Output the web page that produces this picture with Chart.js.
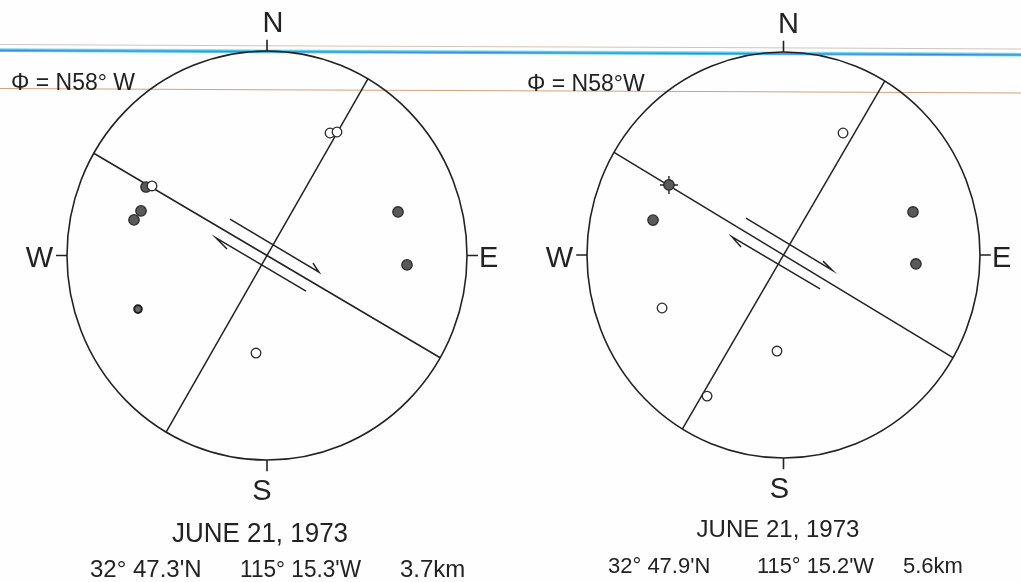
<!DOCTYPE html>
<html>
<head>
<meta charset="utf-8">
<script src="https://cdn.jsdelivr.net/npm/chart.js@4.4.0/dist/chart.umd.min.js"></script>
<style>
  body { margin: 0; background: #fff; }
  #page { position: relative; width: 1021px; height: 582px; overflow: hidden; background: #fefefe; }
  .scan { position: absolute; left: -5px; width: 1035px; transform-origin: 0 0; transform: rotate(0.25deg); }
  #scanGray { top: 44px; height: 1px; background: #cfc6bc; }
  #scanCyan { top: 48px; height: 4px; background: linear-gradient(#bdeff8, #4cc8ea 35%, #3a8ad6 60%, #74d8f0); }
  #scanBrown { top: 88px; height: 1px; background: #d2a27c; }
  .panel { position: absolute; top: 0; height: 582px; }
  #left { left: 0; width: 510px; }
  #right { left: 510px; width: 511px; }
</style>
</head>
<body>
<div id="page">
  <div class="scan" id="scanGray"></div>
  <div class="scan" id="scanCyan"></div>
  <div class="scan" id="scanBrown"></div>
  <div class="panel" id="left"><canvas id="chartLeft"></canvas></div>
  <div class="panel" id="right"><canvas id="chartRight"></canvas></div>
</div>
<script>
// event captions
const strikeLabels = ['Φ = N58° W', 'Φ = N58°W']
const dateLabels = ['JUNE 21, 1973', 'JUNE 21, 1973']
const epicenterLeft = ["32° 47.3'N", "115° 15.3'W", '3.7km']
const epicenterRight = ["32° 47.9'N", "115° 15.2'W", '5.6km']

// nodal plane strikes, degrees from north
const nodalStrikesLeft = [300.0, 30.3]
const nodalStrikesRight = [300.4, 31.0]

// first motions, unit stereonet coords (east +x, north +y)
const compressionsLeft = [
  { x: -0.605, y: 0.335 }, { x: -0.63, y: 0.218 }, { x: -0.665, y: 0.174 },
  { x: 0.655, y: 0.213 }, { x: 0.70, y: -0.046 },
]
const weakCompressionsLeft = [{ x: -0.645, y: -0.262 }]
const dilatationsLeft = [
  { x: 0.315, y: 0.599 }, { x: 0.35, y: 0.604 }, { x: -0.575, y: 0.34 }, { x: -0.055, y: -0.477 },
]

const compressionsRight = [
  { x: -0.583, y: 0.345 }, { x: -0.664, y: 0.172 }, { x: 0.659, y: 0.212 }, { x: 0.674, y: -0.044 },
]
const markedRight = [{ x: -0.583, y: 0.345 }]
const dilatationsRight = [
  { x: 0.303, y: 0.601 }, { x: -0.618, y: -0.261 }, { x: -0.033, y: -0.473 }, { x: -0.389, y: -0.695 },
]

// right-lateral slip arrows (polyline: shaft + half head)
const slipArrowsLeft = [
  [{ x: -0.185, y: 0.178 }, { x: 0.26, y: -0.082 }, { x: 0.23, y: -0.037 }],
  [{ x: -0.2, y: 0.032 }, { x: -0.255, y: 0.086 }, { x: 0.195, y: -0.174 }],
]
const slipArrowsRight = [
  [{ x: -0.191, y: 0.182 }, { x: 0.247, y: -0.074 }, { x: 0.201, y: -0.03 }],
  [{ x: -0.216, y: 0.039 }, { x: -0.262, y: 0.089 }, { x: 0.186, y: -0.167 }],
]

const INK = '#222'
const FONT = '"Liberation Sans", Arial, sans-serif'

const stereonet = {
  id: 'stereonet',
  beforeDatasetsDraw(chart, args, o) {
    const { ctx, scales: { x, y } } = chart
    const cx = x.getPixelForValue(0)
    const cy = y.getPixelForValue(0)
    const rx = x.getPixelForValue(1) - cx
    const ry = cy - y.getPixelForValue(1)
    ctx.save()
    ctx.strokeStyle = INK
    ctx.lineWidth = 1.6
    ctx.beginPath()
    ctx.ellipse(cx, cy, rx, ry, 0, 0, Math.PI * 2)
    ctx.stroke()
    // compass ticks
    const t = 0.055
    ctx.beginPath()
    ctx.moveTo(cx, cy - ry); ctx.lineTo(cx, cy - ry * (1 + t))
    ctx.moveTo(cx, cy + ry); ctx.lineTo(cx, cy + ry * (1 + t))
    ctx.moveTo(cx - rx, cy); ctx.lineTo(cx - rx * (1 + t), cy)
    ctx.moveTo(cx + rx, cy); ctx.lineTo(cx + rx * (1 + t), cy)
    ctx.stroke()

    ctx.fillStyle = INK
    ctx.textBaseline = 'alphabetic'
    ctx.font = '29px ' + FONT
    ctx.textAlign = 'center'
    ctx.fillText('N', cx + o.nShift, cy - ry - 19)
    ctx.fillText('S', cx + o.sShift, cy + ry + 40)
    ctx.textAlign = 'right'
    ctx.fillText('W', cx - rx - 14, cy + 12)
    ctx.textAlign = 'left'
    ctx.fillText('E', cx + rx + 12, cy + 12)

    ctx.font = o.phiSize + 'px ' + FONT
    ctx.fillText(o.strike, o.phiX, o.phiY, o.phiW)

    ctx.textAlign = 'center'
    ctx.font = o.dateSize + 'px ' + FONT
    ctx.fillText(o.date, o.dateX, o.dateY, o.dateW)
    ctx.textAlign = 'left'
    ctx.font = o.locSize + 'px ' + FONT
    o.loc.forEach((s, i) => ctx.fillText(s, o.locX[i], o.locY, o.locW[i]))
    ctx.restore()
  },
}

const nodalLine = (az) => {
  const a = (az * Math.PI) / 180
  return [{ x: Math.sin(a), y: Math.cos(a) }, { x: -Math.sin(a), y: -Math.cos(a) }]
}

const lineSet = (data) => ({
  type: 'line', data, showLine: true, borderColor: INK, borderWidth: 1.5,
  pointRadius: 0, fill: false, tension: 0, order: 5,
})

const makePanel = (id, v) => {
  const datasets = [
    ...v.strikes.map((s) => lineSet(nodalLine(s))),
    ...v.arrows.map((a) => lineSet(a)),
    { data: v.marked || [], pointStyle: 'cross', pointRadius: 9, borderColor: INK, borderWidth: 1.4, order: 3 },
    { data: v.comp, pointRadius: 5.2, backgroundColor: '#5a5a5a', borderColor: '#2a2a2a', borderWidth: 1.3, order: 2 },
    { data: v.weak || [], pointRadius: 3.8, backgroundColor: '#6a6a6a', borderColor: '#1e1e1e', borderWidth: 2, order: 2 },
    { data: v.dil, pointRadius: 4.8, backgroundColor: '#fff', borderColor: '#2a2a2a', borderWidth: 1.3, order: 1 },
  ]
  return new Chart(document.getElementById(id), {
    type: 'scatter',
    data: { datasets },
    options: {
      responsive: true,
      maintainAspectRatio: false,
      animation: false,
      layout: { padding: 0, autoPadding: false },
      scales: {
        x: { type: 'linear', display: false, min: v.xMin, max: v.xMax },
        y: { type: 'linear', display: false, min: v.yMin, max: v.yMax },
      },
      plugins: { legend: { display: false }, tooltip: { enabled: false }, stereonet: v.text },
      elements: { point: { hoverRadius: 5 } },
    },
    plugins: [stereonet],
  })
}

makePanel('chartLeft', {
  xMin: -1.335, xMax: 1.215, yMin: -1.5966, yMax: 1.2494,
  strikes: nodalStrikesLeft, arrows: slipArrowsLeft,
  comp: compressionsLeft, weak: weakCompressionsLeft, dil: dilatationsLeft,
  text: {
    nShift: 6, sShift: -5, strike: strikeLabels[0], phiSize: 23, phiX: 11, phiY: 90, phiW: 125,
    date: dateLabels[0], dateSize: 27, dateX: 260, dateY: 542, dateW: 176,
    loc: epicenterLeft, locSize: 24, locX: [90, 240, 400], locY: 577, locW: [118, 121, 73],
  },
})

makePanel('chartRight', {
  xMin: -1.3919, xMax: 1.2087, yMin: -1.6108, yMax: 1.2562,
  strikes: nodalStrikesRight, arrows: slipArrowsRight,
  comp: compressionsRight, marked: markedRight, dil: dilatationsRight,
  text: {
    nShift: 5, sShift: -4, strike: strikeLabels[1], phiSize: 23, phiX: 17, phiY: 91, phiW: 120,
    date: dateLabels[1], dateSize: 24, dateX: 268, dateY: 537, dateW: 166,
    loc: epicenterRight, locSize: 22, locX: [98, 247, 393], locY: 573, locW: [121, 117, 70],
  },
})
</script>
</body>
</html>
